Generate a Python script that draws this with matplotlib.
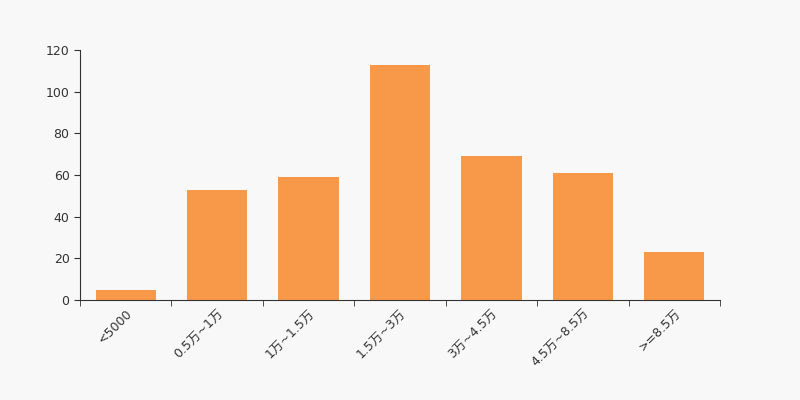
import matplotlib
matplotlib.use('Agg')
import matplotlib.pyplot as plt
import numpy as np

plt.rcParams['font.family'] = ['DejaVu Sans', 'Noto Sans CJK SC']

categories = ['<5000', '0.5万~1万', '1万~1.5万', '1.5万~3万', '3万~4.5万', '4.5万~8.5万', '>=8.5万']
values = [5, 53, 59, 113, 69, 61, 23]

bg = '#f8f8f8'
fig = plt.figure(figsize=(8, 4), dpi=100, facecolor=bg)
ax = fig.add_axes([0.1, 0.25, 0.8, 0.625], facecolor=bg)

x = np.arange(len(categories))
ax.bar(x, values, width=0.66, color='#f8994a', zorder=2)

ax.set_xlim(-0.5, len(categories) - 0.5)
ax.set_ylim(0, 120)
ax.set_yticks(range(0, 121, 20))

# labels at bar centres, tick marks at category boundaries
ax.set_xticks(x)
ax.set_xticklabels(categories, rotation=45, ha='right', rotation_mode='anchor')
ax.set_xticks(np.arange(-0.5, len(categories)), minor=True)
ax.tick_params(axis='x', which='major', length=0, pad=5)
ax.tick_params(axis='x', which='minor', length=4, color='#333333')
ax.tick_params(axis='y', length=4, color='#333333')
ax.tick_params(labelsize=9, labelcolor='#333333')

for s in ['top', 'right']:
    ax.spines[s].set_visible(False)
for s in ['left', 'bottom']:
    ax.spines[s].set_color('#333333')

fig.savefig('out.png', dpi=100, facecolor=bg)
